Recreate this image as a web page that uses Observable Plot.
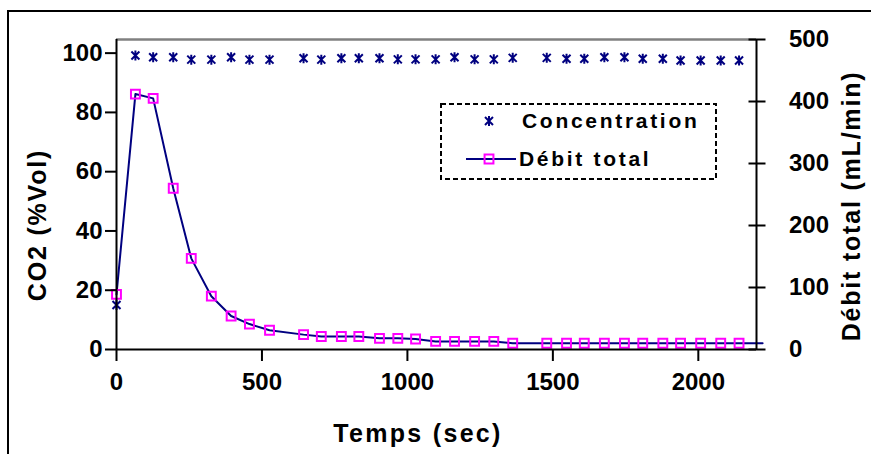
<!DOCTYPE html>
<html><head><meta charset="utf-8">
<script src="https://cdn.jsdelivr.net/npm/d3@7"></script>
<script src="https://cdn.jsdelivr.net/npm/@observablehq/plot@0.6"></script>
<style>
html,body{margin:0;padding:0;background:#fff;}
#wrap{position:relative;width:871px;height:454px;overflow:hidden;background:#fff;font-family:"Liberation Sans",Arial,sans-serif;font-weight:bold;color:#000;}
#border{position:absolute;left:7px;top:10px;width:900px;height:500px;border:2px solid #000;box-sizing:border-box;}
#chart{position:absolute;left:0;top:0;}
.title{position:absolute;font-size:25px;letter-spacing:1.8px;white-space:nowrap;line-height:1;}
#ytitleL{left:37px;top:225px;transform:translate(-50%,-50%) rotate(-90deg);}
#ytitleR{left:851px;top:206px;transform:translate(-50%,-50%) rotate(-90deg);}
#xtitle{left:418px;top:433px;transform:translate(-50%,-50%);letter-spacing:2.3px;}
#legend{position:absolute;left:0;top:0;}
#legend text{font-size:21px;font-weight:bold;letter-spacing:2.7px;font-family:"Liberation Sans",Arial,sans-serif;}
</style></head>
<body>
<div id="wrap">
  <div id="border"></div>
  <div id="chart"></div>
  <div class="title" id="ytitleL"></div>
  <div class="title" id="ytitleR"></div>
  <div class="title" id="xtitle"></div>
  <svg id="legend" width="871" height="454"></svg>
</div>
<script>
// ---- data ----
const times = [0,65,126,195,257,326,394,457,526,643,704,773,833,904,967,1028,1097,1162,1231,1297,1362,1479,1547,1608,1677,1746,1809,1878,1939,2008,2077,2140];
const concentration = [15,99.2,98.6,98.6,97.8,97.8,98.6,97.8,97.8,98.3,97.8,98.3,98.3,98.3,97.9,97.9,97.9,98.6,97.9,97.9,98.4,98.4,98.1,98.1,98.6,98.6,98.1,98.1,97.5,97.5,97.5,97.5];
const debit = [89,412,405,260,147,86,54,41,31,24,21,21,21,18,18,17,13,13,13,13,10,10,10,10,10,10,10,10,10,10,10,10];
// the flow line continues slightly past the last marker
const lineEndTime = [2221];
const lineEndDebit = [10];
const xTicks = [0,500,1000,1500,2000];
const leftTicks = [0,20,40,60,80,100];
const rightTicks = [0,100,200,300,400,500];
const seriesNames = ["Concentration","Débit total"];
const xTitle = "Temps (sec)";
const yTitleLeft = "CO2 (%Vol)";
const yTitleRight = "Débit total (mL/min)";

const xMax = 2200;
const yMax = 104.6;       // left axis top of plot area (100 sits a little below the top)
const rightMax = 500;     // right axis: 500 at the very top
const right = d3.scaleLinear().domain([0, rightMax]).range([0, yMax]);

const navy = "#000080", pink = "#FF00FF";

const rows = times.map((t,i)=>({t, c: concentration[i], d: debit[i]}));
const lineRows = rows.concat(lineEndTime.map((t,i)=>({t, d: lineEndDebit[i]})));

// Excel-like star marker: an "x" with a vertical bar
const excelStar = {draw(ctx, size){ const r = Math.sqrt(size/Math.PI); const a = r*0.8;
  ctx.moveTo(0,-r); ctx.lineTo(0,r);
  ctx.moveTo(-a,-a); ctx.lineTo(a,a);
  ctx.moveTo(-a,a); ctx.lineTo(a,-a);}};

const chart = Plot.plot({
  width: 871, height: 454,
  marginLeft: 116, marginRight: 115, marginTop: 39, marginBottom: 105,
  style: {fontFamily: "'Liberation Sans', Arial, sans-serif", fontSize: "24px", fontWeight: "bold", background: "none", overflow: "visible", color: "#000"},
  x: {domain: [0, xMax]},
  y: {domain: [0, yMax]},
  marks: [
    Plot.ruleY([yMax], {stroke: "#808080", strokeWidth: 2.5}),
    Plot.line(lineRows, {x: "t", y: d => right(d.d), stroke: navy, strokeWidth: 2}),
    Plot.dot(rows, {x: "t", y: d => right(d.d), symbol: "square", r: 5, stroke: pink, strokeWidth: 2, fill: "none"}),
    Plot.dot(rows, {x: "t", y: "c", symbol: excelStar, r: 5, stroke: navy, strokeWidth: 2}),
    Plot.ruleX([0], {strokeWidth: 2}),
    Plot.ruleX([xMax], {strokeWidth: 2}),
    Plot.ruleY([0], {strokeWidth: 2}),
    Plot.axisY(leftTicks, {anchor: "left", tickSize: 11, tickPadding: 3, strokeWidth: 2, label: null, tickFormat: d3.format("d")}),
    Plot.axisY(rightTicks.map(right), {anchor: "right", tickSize: 17, dx: -8.5, tickPadding: 24, strokeWidth: 2, label: null, tickFormat: v => String(Math.round(right.invert(v)))}),
    Plot.axisX(xTicks, {anchor: "bottom", tickSize: 12, tickPadding: 11, strokeWidth: 2, label: null, tickFormat: d3.format("d")})
  ]
});
document.getElementById("chart").appendChild(chart);
document.getElementById("xtitle").textContent = xTitle;
document.getElementById("ytitleL").textContent = yTitleLeft;
document.getElementById("ytitleR").textContent = yTitleRight;

// legend
const lg = d3.select("#legend");
lg.append("rect").attr("x",441).attr("y",104).attr("width",275).attr("height",75)
  .attr("fill","#fff").attr("stroke","#000").attr("stroke-width",2).attr("stroke-dasharray","5,3");
const starPath = d3.symbol(excelStar, Math.PI*5*5)();
lg.append("path").attr("d", starPath).attr("transform","translate(489,121)").attr("stroke",navy).attr("stroke-width",2).attr("fill","none");
lg.append("line").attr("x1",466).attr("x2",516).attr("y1",159).attr("y2",159).attr("stroke",navy).attr("stroke-width",2);
lg.append("path").attr("d", d3.symbol(d3.symbolSquare, Math.PI*25)()).attr("transform","translate(489,159)").attr("stroke",pink).attr("stroke-width",2).attr("fill","none");
lg.append("text").attr("x",522).attr("y",128).text(seriesNames[0]);
lg.append("text").attr("x",519).attr("y",166).text(seriesNames[1]);
</script>
</body></html>
